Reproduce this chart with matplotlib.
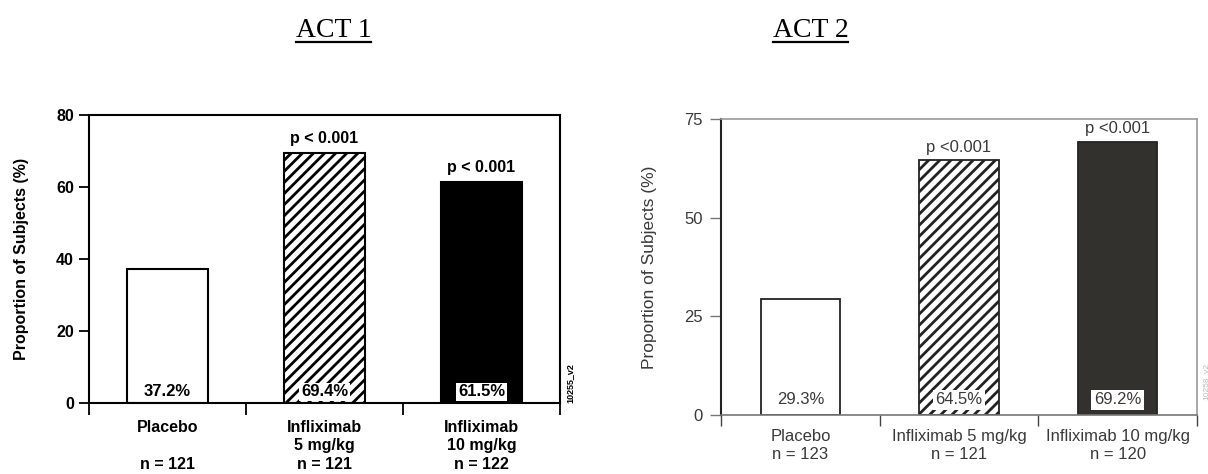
import matplotlib
matplotlib.use('Agg')
import matplotlib.pyplot as plt
from matplotlib.lines import Line2D

# ACT 1 data
act1_groups = ['Placebo\n\nn = 121', 'Infliximab\n5 mg/kg\nn = 121', 'Infliximab\n10 mg/kg\nn = 122']
act1_values = [37.2, 69.4, 61.5]
act1_pvals = ['', 'p < 0.001', 'p < 0.001']
act1_yticks = [0, 20, 40, 60, 80]

# ACT 2 data
act2_groups = ['Placebo\nn = 123', 'Infliximab 5 mg/kg\nn = 121', 'Infliximab 10 mg/kg\nn = 120']
act2_values = [29.3, 64.5, 69.2]
act2_pvals = ['', 'p <0.001', 'p <0.001']
act2_yticks = [0, 25, 50, 75]

plt.rcParams['font.family'] = ['Liberation Sans', 'DejaVu Sans']
plt.rcParams['hatch.linewidth'] = 2.0

fig = plt.figure(figsize=(12.08, 4.74), dpi=100)
ax1 = fig.add_axes([0.0737, 0.1498, 0.3899, 0.6076])
ax2 = fig.add_axes([0.5969, 0.1245, 0.3940, 0.6245])

x = [0.5, 1.5, 2.5]

# ---------------- ACT 1 ----------------
styles1 = [dict(facecolor='white', hatch=None),
           dict(facecolor='white', hatch='///'),
           dict(facecolor='black', hatch=None)]
for xi, v, st, p, g in zip(x, act1_values, styles1, act1_pvals, act1_groups):
    ax1.bar(xi, v, width=0.51, edgecolor='black', linewidth=1.5, zorder=2, **st)
    ax1.annotate(f'{v:.1f}%', (xi, 0), xytext=(0, 8), textcoords='offset points',
                 ha='center', va='center', fontsize=12, fontweight='bold', zorder=4,
                 bbox=dict(boxstyle='square,pad=0.1', fc='white', ec='none'))
    if p:
        ax1.annotate(p, (xi, v), xytext=(0, 5), textcoords='offset points',
                     ha='center', va='bottom', fontsize=11.5, fontweight='bold')
    ax1.annotate(g, (xi, 0), xycoords=('data', 'axes fraction'), xytext=(0, -12),
                 textcoords='offset points', ha='center', va='top',
                 fontsize=11.5, fontweight='bold', linespacing=1.3, annotation_clip=False)

ax1.set_xlim(0, 3)
ax1.set_ylim(0, 80)
ax1.set_yticks(act1_yticks)
ax1.set_yticklabels([str(t) for t in act1_yticks], fontsize=11.5, fontweight='bold')
ax1.set_xticks([0, 1, 2, 3])
ax1.set_xticklabels([])
ax1.tick_params(axis='y', direction='out', length=7, width=1.3, pad=4)
ax1.tick_params(axis='x', direction='out', length=8.5, width=1.3)
for s in ax1.spines.values():
    s.set_linewidth(1.5)
ax1.set_ylabel('Proportion of Subjects (%)', fontsize=11.5, fontweight='bold')
ax1.yaxis.set_label_coords(-0.128, 0.5)
ax1.text(1.012, 0.0, '10255_v2', transform=ax1.transAxes, rotation=90,
         ha='left', va='bottom', fontsize=6.5, fontweight='bold')

# ---------------- ACT 2 ----------------
dark = '#33312d'
gray_txt = '#3a3a3a'
styles2 = [dict(facecolor='white', hatch=None),
           dict(facecolor='white', hatch='///'),
           dict(facecolor=dark, hatch=None)]
for xi, v, st, p, g in zip(x, act2_values, styles2, act2_pvals, act2_groups):
    ax2.bar(xi, v, width=0.5, edgecolor='#222222', linewidth=1.3, zorder=2, **st)
    ax2.annotate(f'{v:.1f}%', (xi, 0), xytext=(0, 11), textcoords='offset points',
                 ha='center', va='center', fontsize=12, color=gray_txt, zorder=4,
                 bbox=dict(boxstyle='square,pad=0.15', fc='white', ec='none'))
    if p:
        ax2.annotate(p, (xi, v), xytext=(0, 4), textcoords='offset points',
                     ha='center', va='bottom', fontsize=12, color=gray_txt)
    ax2.annotate(g, (xi, 0), xycoords=('data', 'axes fraction'), xytext=(0, -10),
                 textcoords='offset points', ha='center', va='top',
                 fontsize=12, color=gray_txt, linespacing=1.25, annotation_clip=False)

ax2.set_xlim(0, 3)
ax2.set_ylim(0, 75)
ax2.set_yticks(act2_yticks)
ax2.set_yticklabels([str(t) for t in act2_yticks], fontsize=12, color=gray_txt)
ax2.set_xticks([0, 1, 2, 3])
ax2.set_xticklabels([])
ax2.tick_params(axis='y', direction='out', length=8, width=1.0, pad=5, color='#777777')
ax2.tick_params(axis='x', direction='out', length=8, width=1.0, color='#444444')
ax2.spines['left'].set_color('#222222')
ax2.spines['left'].set_linewidth(1.5)
ax2.spines['bottom'].set_color('#777777')
ax2.spines['bottom'].set_linewidth(1.2)
ax2.spines['top'].set_color('#999999')
ax2.spines['top'].set_linewidth(1.2)
ax2.spines['right'].set_color('#999999')
ax2.spines['right'].set_linewidth(1.2)
ax2.set_ylabel('Proportion of Subjects (%)', fontsize=12.5, color=gray_txt)
ax2.yaxis.set_label_coords(-0.135, 0.5)
ax2.text(1.012, 0.05, '10258_v2', transform=ax2.transAxes, rotation=90,
         ha='left', va='bottom', fontsize=6, color='#bbbbbb')

# ---------------- titles (underlined) ----------------
titles = [('ACT 1', 0.276), ('ACT 2', 0.671)]
title_objs = []
for txt, xc in titles:
    t = fig.text(xc, 0.935, txt, ha='center', va='center', fontsize=20,
                 family=['Liberation Serif', 'DejaVu Serif'])
    title_objs.append(t)

fig.canvas.draw()
inv = fig.transFigure.inverted()
for t in title_objs:
    bb = t.get_window_extent()
    (x0, y0), (x1, y1) = inv.transform([[bb.x0, bb.y0], [bb.x1, bb.y1]])
    fig.add_artist(Line2D([x0, x1], [y0 + 0.002, y0 + 0.002], transform=fig.transFigure,
                          color='black', linewidth=1.6))

fig.savefig('out.png', dpi=100)
